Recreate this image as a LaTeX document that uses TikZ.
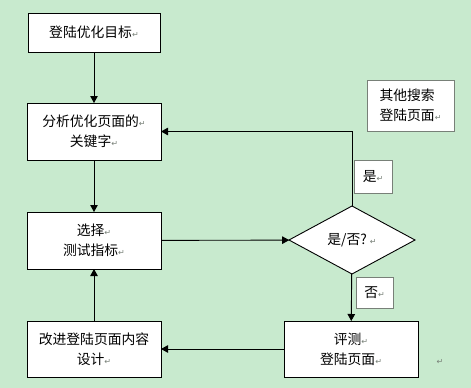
\documentclass[tikz,border=0pt]{standalone}
\usepackage{fontspec}
\newfontfamily\cjk{Noto Sans CJK SC}
\newfontfamily\symfont{DejaVu Sans}
\usetikzlibrary{arrows.meta,positioning,shapes.geometric}
\definecolor{bgfill}{RGB}{200,234,206}
\definecolor{labelgray}{RGB}{120,128,120}
\newcommand{\retmark}{{\symfont\color{labelgray}\fontsize{8}{8}\selectfont ↵}}

\begin{document}
\begin{tikzpicture}[
            x=1pt, y=-1pt,
            node distance=52pt,
            box/.style={draw, fill=white, line width=0.9pt, minimum width=134pt, minimum height=57pt, align=center, outer sep=0pt, font=\cjk\fontsize{13.8}{20}\selectfont},
            tag/.style={draw=labelgray, fill=white, line width=0.9pt, inner sep=0pt, align=left, font=\cjk\fontsize{13.8}{20}\selectfont},
            decision/.style={diamond, draw, fill=white, line width=0.9pt, minimum width=126pt, minimum height=68pt, inner sep=0pt, outer sep=0pt, font=\cjk\fontsize{13.8}{20}\selectfont},
            >={Triangle[length=7pt,width=7.5pt]}
        ]
        \useasboundingbox[fill=bgfill] (0,0) rectangle (471,388);

        \node[box, minimum width=132pt, minimum height=39pt] (goal) at (94,32.5) {登陆优化目标\retmark};
        \node[box, below=51pt of goal] (analyze) {分析优化页面的\retmark\\关键字\retmark};
        \node[box, below=of analyze] (choose) {选择\retmark\\测试指标\retmark};
        \node[box, below=of choose, minimum height=56pt] (improve) {改进登陆页面内容\\设计\retmark};
        \node[decision] (ask) at (352,240) {是/否?\ \retmark};
        \node[box, minimum height=56pt] (evaluate) at (351,349) {评测\retmark\\登陆页面\retmark};

        \node[tag, minimum width=87pt, minimum height=51pt] (other) at (410.5,105.5) {其他搜索\\登陆页面\retmark};
        \node[tag, minimum width=38pt, minimum height=33pt] (yes) at (373,176.5) {是\retmark};
        \node[tag, minimum width=37pt, minimum height=31pt] (no) at (374.5,292.5) {否\retmark};
        \node (endmark) at (440,362) {\retmark};

        \draw[->, line width=0.9pt] (goal) -- (analyze);
        \draw[->, line width=0.9pt] (analyze) -- (choose);
        \draw[->, line width=0.9pt] (choose) -- (ask);
        \draw[->, line width=0.9pt] (ask) -- (evaluate);
        \draw[->, line width=0.9pt] (evaluate) -- (improve);
        \draw[->, line width=0.9pt] (improve) -- (choose);
        \draw[->, line width=0.9pt] (ask.north) |- (analyze.east);
    \end{tikzpicture}
\end{document}
